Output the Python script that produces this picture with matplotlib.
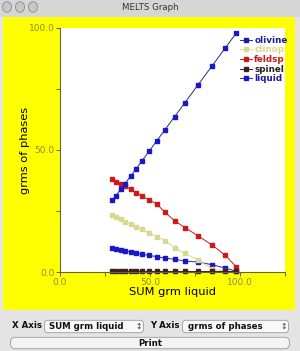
import matplotlib
matplotlib.use("Agg")
import matplotlib.pyplot as plt
from matplotlib.patches import Rectangle, FancyBboxPatch, Circle

W, H = 300, 351

# ---- data ----
sum_liquid = [29.1, 31.1, 33.7, 36.1, 39.3, 42.2, 45.6, 49.6, 53.7, 58.3,
              63.7, 69.4, 76.5, 84.4, 91.9, 97.8]
olivine = [9.7, 9.4, 9.0, 8.6, 8.2, 7.7, 7.2, 6.8, 6.3, 5.7,
           5.2, 4.5, 4.1, 3.0, 1.6, 0.3]
clinop = [23.4, 22.4, 21.6, 20.6, 19.7, 18.6, 17.5, 15.9, 14.5, 12.8,
          10.0, 7.6, 5.0, 1.3, 0.3, 0.0]
feldsp = [38.0, 37.0, 36.1, 35.2, 33.9, 32.5, 31.1, 29.5, 27.9, 24.5,
          21.0, 18.2, 14.9, 11.1, 6.8, 2.2]
spinel = [0.4, 0.4, 0.4, 0.4, 0.4, 0.4, 0.4, 0.4, 0.4, 0.4,
          0.4, 0.4, 0.4, 0.4, 0.4, 0.4]
liquid = [29.4, 31.3, 33.9, 36.2, 39.3, 42.2, 45.6, 49.6, 53.7, 58.3,
          63.7, 69.4, 76.5, 84.4, 91.9, 97.8]

series_names = ["olivine", "clinop", "feldsp", "spinel", "liquid"]
series_colors = ["#1818c8", "#d8d890", "#d01818", "#3c2020", "#1818c8"]
line_colors = ["#2a2a9a", "#d8d890", "#c02020", "#3c2020", "#2a2a8a"]
label_colors = ["#1a1a9a", "#d8d890", "#d01818", "#222222", "#1a1a9a"]

x_ticks = [0, 25, 50, 75, 100, 125]
x_tick_labels = ["0.0", "", "50.0", "", "100.0", ""]
y_ticks = [0, 25, 50, 75, 100]
y_tick_labels = ["0.0", "", "50.0", "", "100.0"]


def fx(px):
    return px / W


def fy(py):
    return 1 - py / H


fig = plt.figure(figsize=(3.0, 3.51), dpi=100)
fig.patch.set_facecolor("#e4e4e4")

# window chrome
fig.patches.append(Rectangle((0, fy(17)), 1, 17 / H, transform=fig.transFigure,
                             facecolor="#d6d6d6", edgecolor="none", zorder=-2))
fig.patches.append(Rectangle((fx(3), fy(310)), fx(295) - fx(3), (310 - 17) / H,
                             transform=fig.transFigure, facecolor="#ffff00",
                             edgecolor="none", zorder=-2))
for cx in [7, 20, 33]:
    fig.patches.append(Circle((fx(cx), fy(7)), 4.5 / W, transform=fig.transFigure,
                              facecolor="#c8c8c8", edgecolor="#8a8a8a", lw=0.6, zorder=-1))
fig.text(0.5, fy(7.5), "MELTS Graph", ha="center", va="center", fontsize=6.2,
         color="#333333")

# axes
ax = fig.add_axes([fx(60), fy(272), fx(285) - fx(60), (272 - 28) / H])
ax.set_zorder(5)
ax.set_facecolor("white")
ys = [olivine, clinop, feldsp, spinel, liquid]
for name, yv, mc, lc in zip(series_names, ys, series_colors, line_colors):
    ms = 2.9 if name != "spinel" else 2.4
    ax.plot(sum_liquid, yv, color=lc, lw=0.7, marker="s", markersize=ms,
            markerfacecolor=mc, markeredgecolor=mc, label=name, clip_on=False)

ax.set_xlim(0, 125)
ax.set_ylim(0, 100)
for s in ["top", "right"]:
    ax.spines[s].set_visible(False)
for s in ["left", "bottom"]:
    ax.spines[s].set_color("#66663a")
    ax.spines[s].set_linewidth(0.8)
ax.set_xticks(x_ticks)
ax.set_xticklabels(x_tick_labels)
ax.set_yticks(y_ticks)
ax.set_yticklabels(y_tick_labels)
ax.tick_params(axis="both", direction="out", length=3, width=0.7, color="#66663a",
               labelsize=6.5, labelcolor="#8c8c30", pad=1.0)
ax.set_xlabel("SUM grm liquid", fontsize=8.2, color="black")
ax.set_ylabel("grms of phases", fontsize=8.2, color="black")
ax.xaxis.set_label_coords(0.5, -(292 - 272) / 244)
ax.yaxis.set_label_coords(-(60 - 25) / 225, 0.5)
ax.xaxis.label.set_va("center")
ax.yaxis.label.set_va("center")

leg = ax.legend(loc="upper right", bbox_to_anchor=(1.035, 0.99), frameon=False,
                handlelength=1.3, handletextpad=0.3,
                labelspacing=0.08, borderpad=0.1, markerscale=1.0,
                prop={"weight": "bold", "size": 6.3})
for txt, c in zip(leg.get_texts(), label_colors):
    txt.set_color(c)

# bottom controls
fig.text(fx(12), fy(326), "X Axis", fontsize=6.2, weight="bold", va="center", color="#111111")
fig.patches.append(FancyBboxPatch((fx(45), fy(332)), fx(143) - fx(45), 11 / H,
                                  boxstyle="round,pad=0.002,rounding_size=0.012",
                                  transform=fig.transFigure, facecolor="#f8f8f8",
                                  edgecolor="#9a9a9a", lw=0.6))
fig.text(fx(49), fy(326.5), "SUM grm liquid", fontsize=6.2, weight="bold", va="center", color="#111111")
fig.text(fx(135), fy(326.5), "\u2195", fontsize=5.5, va="center", color="#333333")
fig.text(fx(150), fy(326), "Y Axis", fontsize=6.2, weight="bold", va="center", color="#111111")
fig.patches.append(FancyBboxPatch((fx(183), fy(332)), fx(288) - fx(183), 11 / H,
                                  boxstyle="round,pad=0.002,rounding_size=0.012",
                                  transform=fig.transFigure, facecolor="#f8f8f8",
                                  edgecolor="#9a9a9a", lw=0.6))
fig.text(fx(188), fy(326.5), "grms of phases", fontsize=6.2, weight="bold", va="center", color="#111111")
fig.text(fx(280), fy(326.5), "\u2195", fontsize=5.5, va="center", color="#333333")
fig.patches.append(FancyBboxPatch((fx(11), fy(348)), fx(289) - fx(11), 10 / H,
                                  boxstyle="round,pad=0.002,rounding_size=0.016",
                                  transform=fig.transFigure, facecolor="#f4f4f4",
                                  edgecolor="#9a9a9a", lw=0.6))
fig.text(0.5, fy(343), "Print", fontsize=6.2, weight="bold", ha="center", va="center", color="#111111")

fig.savefig("out.png", dpi=100, facecolor=fig.get_facecolor())
